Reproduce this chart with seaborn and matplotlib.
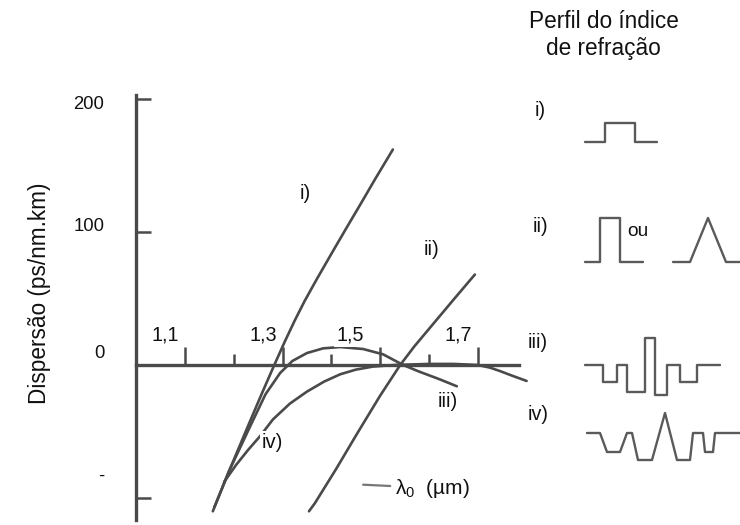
import numpy as np
import pandas as pd
import matplotlib
matplotlib.use("Agg")
import matplotlib.pyplot as plt
from matplotlib import font_manager
import seaborn as sns

# ---- dispersion curves D(lambda) in ps/(nm.km), lambda in um ----
lam_i = [1.157, 1.19, 1.229, 1.258, 1.283, 1.305, 1.325, 1.345, 1.37, 1.403, 1.43, 1.459, 1.49, 1.526]
disp_i = [-110, -80, -46, -21, 0, 18, 33.5, 48, 64.5, 85.5, 102.5, 120.5, 140, 162]

lam_ii = [1.354, 1.366, 1.41, 1.452, 1.50, 1.541, 1.57, 1.602, 1.65, 1.694]
disp_ii = [-110, -104, -78, -52, -23, 0, 14, 28, 49, 68]

lam_iii = [1.16, 1.19, 1.235, 1.265, 1.295, 1.32, 1.35, 1.383, 1.418, 1.465, 1.506, 1.547, 1.58, 1.62, 1.657]
disp_iii = [-107, -80, -45, -22, -6, 3, 9, 12.5, 13.5, 12, 8, 0, -5, -10.5, -16]

lam_iv = [1.18, 1.205, 1.229, 1.255, 1.28, 1.315, 1.35, 1.385, 1.418, 1.45, 1.485, 1.53,
          1.60, 1.65, 1.70, 1.725, 1.745, 1.77, 1.80]
disp_iv = [-88, -75, -64, -53, -41, -29, -20, -12.5, -7, -3.5, -1.2, 0,
           0.8, 0.8, 0, -2, -4.5, -8, -12]

curve_names = ["i)", "ii)", "iii)", "iv)"]

# axis ticks
x_major = [1.1, 1.3, 1.5, 1.7]
x_minor = [1.2, 1.4, 1.6]
x_tick_text = ["1,1", "1,3", "1,5", "1,7"]
y_ticks = [200, 100, -100]
y_tick_text = ["200", "100", "0", "-"]

# ---- refractive index profiles (radius, index step), arbitrary units ----
prof_i_r = [-3.6, -1.6, -1.6, 1.4, 1.4, 3.6]
prof_i_n = [0, 0, 1.9, 1.9, 0, 0]
prof_iia_r = [-2.9, -1.4, -1.4, 0.6, 0.6, 2.9]
prof_iia_n = [0, 0, 4.4, 4.4, 0, 0]
prof_iib_r = [-3.5, -1.8, 0, 1.8, 3.2]
prof_iib_n = [0, 0, 4.4, 0, 0]
prof_iii_r = [-6.5, -4.7, -4.7, -3.3, -3.3, -2.3, -2.3, -0.5, -0.5, 0.5, 0.5, 1.7, 1.7,
              3.0, 3.0, 4.7, 4.7, 7.0]
prof_iii_n = [0, 0, -1.7, -1.7, 0, 0, -2.7, -2.7, 2.7, 2.7, -3.0, -3.0, 0, 0,
              -1.7, -1.7, 0, 0]
prof_iv_r = [-7.8, -6.5, -5.8, -4.5, -3.8, -3.3, -2.7, -1.3, 0, 1.2, 2.5, 2.8, 3.8,
             4.0, 4.8, 5.0, 7.5]
prof_iv_n = [0, 0, -1.9, -1.9, 0, 0, -2.7, -2.7, 2.0, -2.7, -2.7, 0, 0,
             -1.9, -1.9, 0, 0]

# ---- style ----
sns.set_theme(style="white")
names = {f.name for f in font_manager.fontManager.ttflist}
if "Liberation Sans Narrow" in names:
    FAM, K = "Liberation Sans Narrow", 1.0
else:
    FAM, K = "Liberation Sans", 0.86
plt.rcParams["font.family"] = [FAM, "DejaVu Sans"]
plt.rcParams["mathtext.fontset"] = "custom"
plt.rcParams["mathtext.rm"] = FAM
plt.rcParams["mathtext.it"] = FAM
plt.rcParams["mathtext.default"] = "regular"

INK = "#4a4a4a"
TXT = "#111111"
W, H = 740, 525

fig = plt.figure(figsize=(W / 100, H / 100), dpi=100)
fig.patch.set_facecolor("white")

# main axes: x 1.0..1.8 um, y such that 0 sits on row 365
ax = fig.add_axes([136.2 / W, 0.0, 390.4 / W, 1.0])
ax.set_xlim(1.0, 1.8)
ax.set_ylim(-120.3, 274.4)
ax.set_facecolor("none")

df = pd.concat([
    pd.DataFrame({"lam": lam_i, "D": disp_i, "fibra": "i)"}),
    pd.DataFrame({"lam": lam_ii, "D": disp_ii, "fibra": "ii)"}),
    pd.DataFrame({"lam": lam_iii, "D": disp_iii, "fibra": "iii)"}),
    pd.DataFrame({"lam": lam_iv, "D": disp_iv, "fibra": "iv)"}),
], ignore_index=True)

sns.lineplot(data=df, x="lam", y="D", hue="fibra", units="fibra", estimator=None,
             palette={n: INK for n in curve_names}, linewidth=1.9, legend=False,
             sort=False, ax=ax, clip_on=False)
for ln in ax.get_lines():
    ln.set_solid_joinstyle("round")
    ln.set_solid_capstyle("round")

# axes as drawn lines: vertical at lambda=1.0, horizontal at D=0
for s in ["top", "right"]:
    ax.spines[s].set_visible(False)
ax.spines["bottom"].set_position(("data", 0))
ax.spines["bottom"].set_bounds(1.0, 1.785)
ax.spines["left"].set_bounds(-116.5, 203)
for s in ["bottom", "left"]:
    ax.spines[s].set_color(INK)
    ax.spines[s].set_linewidth(2.4)
    ax.spines[s].set_zorder(2.5)

ax.set_xticks(x_major)
ax.set_xticks(x_minor, minor=True)
ax.set_yticks(y_ticks)
ax.tick_params(axis="x", which="major", direction="in", length=13, width=1.8,
               color=INK, labelbottom=False, bottom=True)
ax.tick_params(axis="x", which="minor", direction="in", length=8, width=1.8,
               color=INK, bottom=True)
ax.tick_params(axis="y", direction="in", length=11, width=1.8, color=INK,
               labelleft=False, left=True)
ax.set_xlabel("")
ax.set_ylabel("")
ax.grid(False)

# tick numbers
for xv, t in zip([1.059, 1.260, 1.438, 1.659], x_tick_text):
    ax.text(xv, 22.6, t, ha="center", va="center", fontsize=16.5 * K, color=TXT,
            bbox=dict(fc="white", ec="none", pad=1.5), zorder=4)
for yv, t in zip([195.5, 103.8, 9, -84], y_tick_text):
    ax.text(0.935, yv, t, ha="right", va="center", fontsize=15.5 * K, color=TXT,
            clip_on=False)

# curve labels
for (xv, yv), t in zip([(1.346, 129), (1.606, 86.5), (1.639, -27.8), (1.278, -57.9)],
                       curve_names):
    ax.text(xv, yv, t, ha="center", va="center", fontsize=17 * K, color=TXT,
            bbox=dict(fc="white", ec="none", pad=1.0), zorder=4)

ax.annotate(r"$\lambda_0$  (µm)", xy=(1.465, -90), xytext=(1.530, -92.5),
            ha="left", va="center", fontsize=17.5 * K, color=TXT,
            arrowprops=dict(arrowstyle="-", color="#777777", lw=1.6,
                            shrinkA=1, shrinkB=0))

fig.text(40 / W, 1 - 293 / H, "Dispersão (ps/nm.km)", rotation=90, ha="center",
         va="center", fontsize=19 * K, color=TXT)

# ---- index profile panel ----
fig.text(604 / W, 1 - 21 / H, "Perfil do índice", ha="center", va="center",
         fontsize=19 * K, color=TXT)
fig.text(603 / W, 1 - 48 / H, "de refração", ha="center", va="center",
         fontsize=19 * K, color=TXT)

for (px, py), t in zip([(540, 110), (540, 227), (538, 342), (538, 415)], curve_names):
    fig.text(px / W, 1 - py / H, t, ha="center", va="center", fontsize=16.5 * K,
             color=TXT)

PROF = "#5a5a5a"


def profile(r, n, cx, cy):
    # 1 profile unit = 10 px; axes spans r in [-9, 9], n in [-4, 5]
    left, right = cx - 90, cx + 90
    top, bottom = cy - 50, cy + 40
    pa = fig.add_axes([left / W, 1 - bottom / H, (right - left) / W, (bottom - top) / H])
    pa.set_xlim(-9, 9)
    pa.set_ylim(-4, 5)
    pa.set_facecolor("none")
    pa.axis("off")
    sns.lineplot(x=r, y=n, sort=False, estimator=None, color=PROF, linewidth=1.7,
                 ax=pa, clip_on=False)
    return pa


profile(prof_i_r, prof_i_n, 621, 142)
profile(prof_iia_r, prof_iia_n, 614, 262)
profile(prof_iib_r, prof_iib_n, 708, 262)
profile(prof_iii_r, prof_iii_n, 650, 365)
profile(prof_iv_r, prof_iv_n, 665, 433)

fig.text(638 / W, 1 - 231 / H, "ou", ha="center", va="center", fontsize=16 * K,
         color=TXT, zorder=10, bbox=dict(fc="white", ec="none", pad=2.5))

fig.savefig("out.png", dpi=100, facecolor="white")
